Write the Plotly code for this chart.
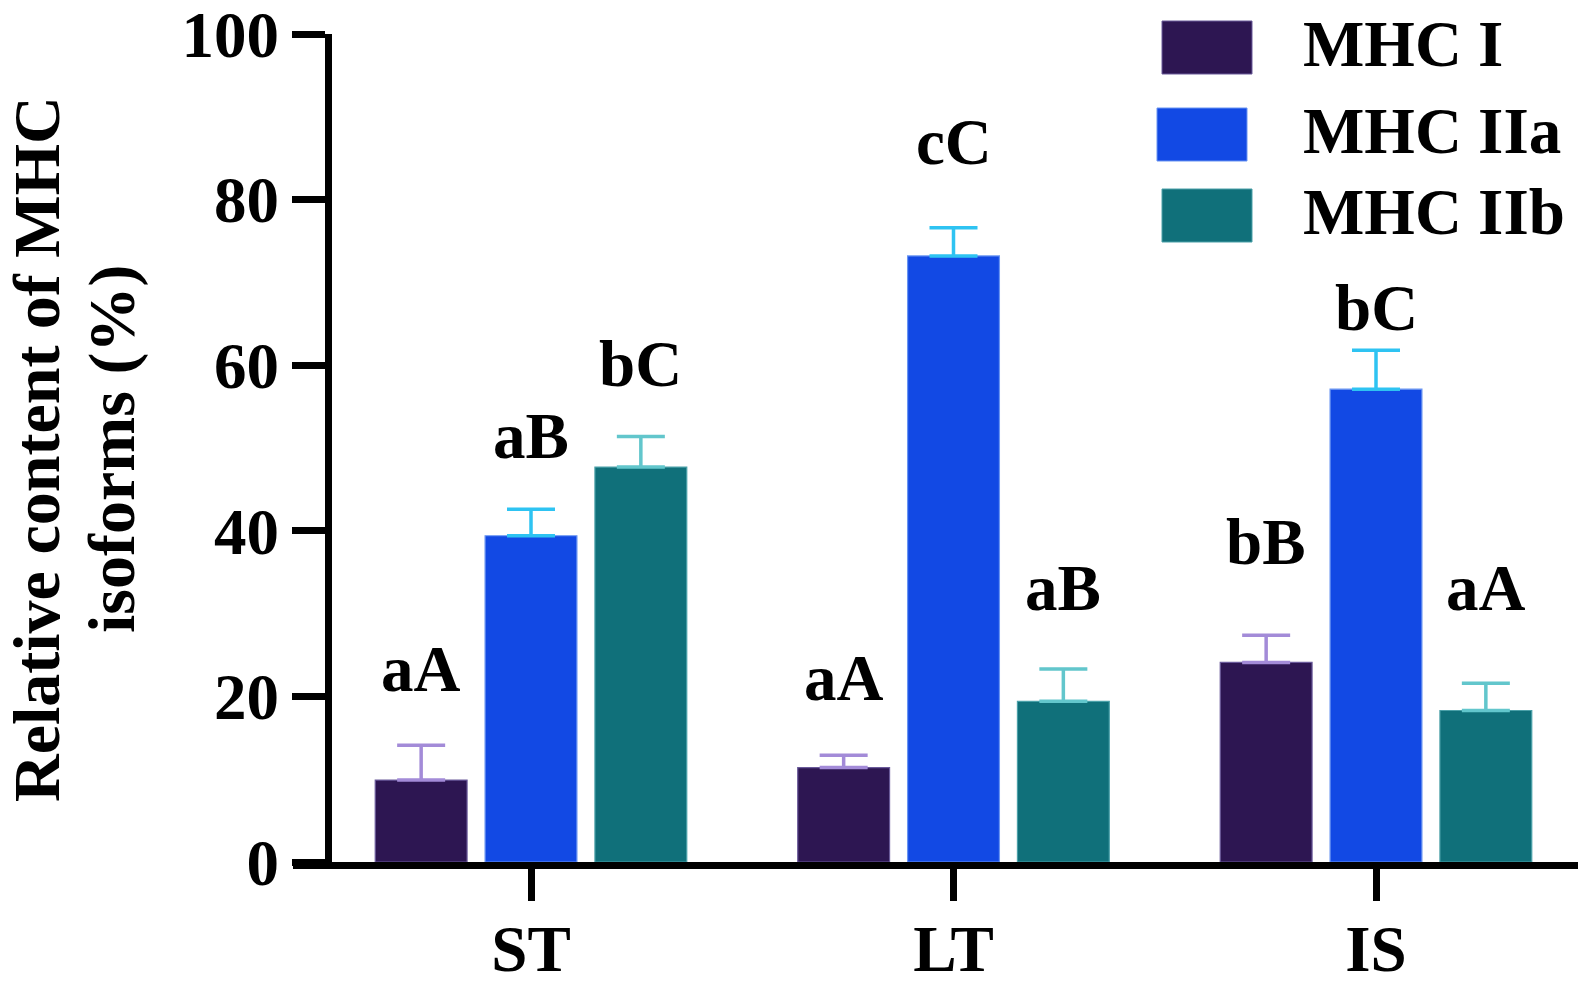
import plotly.graph_objects as go

# ---- data ----
categories = ["ST", "LT", "IS"]
series_names = ["MHC I", "MHC IIa", "MHC IIb"]
mhc1 = [9.9, 11.4, 24.1]
mhc2a = [39.4, 73.2, 57.1]
mhc2b = [47.7, 19.4, 18.3]
mhc1_err = [4.2, 1.5, 3.3]
mhc2a_err = [3.2, 3.4, 4.7]
mhc2b_err = [3.7, 3.9, 3.3]
labels_mhc1 = ["aA", "aA", "bB"]
labels_mhc2a = ["aB", "cC", "bC"]
labels_mhc2b = ["bC", "aB", "aA"]
label_y_mhc1 = [23.3, 22.2, 38.6]
label_y_mhc2a = [51.5, 87.0, 66.9]
label_y_mhc2b = [60.2, 33.1, 33.1]
y_ticks = [0, 20, 40, 60, 80, 100]
y_title_lines = ["Relative content of MHC", "isoforms (%)"]

values = [mhc1, mhc2a, mhc2b]
errors = [mhc1_err, mhc2a_err, mhc2b_err]
labels = [labels_mhc1, labels_mhc2a, labels_mhc2b]
label_ys = [label_y_mhc1, label_y_mhc2a, label_y_mhc2b]

bar_colors = ["#2d1652", "#1249e4", "#10707a"]
edge_colors = ["#6a5a9a", "#6a95f2", "#4aa0a8"]
err_colors = ["#a38bd8", "#2ec3f2", "#62c6cc"]

FONT = "Liberation Serif, Times New Roman, serif"
FS = 65

W, H = 1585, 984
L, R, T, B = 332, 1578, 34, 862   # plot area in pixels
PW, PH = R - L, B - T

def px_x(x):
    return (x - L) / PW

def px_y(y):
    return (B - y) / PH

# category axis placement (centre of first group and pitch, in px)
C0, PITCH = 531, 422.5
x_range = [(L - C0) / PITCH, (R - C0) / PITCH]

BARGAP = 0.22
BARGROUPGAP = 0.164
slot = (1 - BARGAP) / 3

fig = go.Figure()
for k in range(3):
    fig.add_trace(go.Bar(
        x=list(range(len(categories))),
        y=values[k],
        name=series_names[k],
        marker=dict(color=bar_colors[k], line=dict(color=edge_colors[k], width=1.2)),
        error_y=dict(type="data", array=errors[k], arrayminus=[0] * len(categories),
                     symmetric=False, color=err_colors[k], thickness=3.5, width=24),
        showlegend=False,
    ))

annotations = []
for k in range(3):
    for i in range(len(categories)):
        annotations.append(dict(
            x=i + (k - 1) * slot, y=label_ys[k][i], xref="x", yref="y",
            text=labels[k][i], showarrow=False, xanchor="center", yanchor="middle",
            font=dict(family=FONT, size=FS, color="black", weight="bold"),
        ))

# y-axis title, two lines
for xc, line in zip([36, 112], y_title_lines):
    annotations.append(dict(
        x=px_x(xc), y=px_y(449), xref="paper", yref="paper",
        text=line, textangle=-90,
        showarrow=False, xanchor="center", yanchor="middle",
        font=dict(family=FONT, size=66, color="black", weight="bold"),
    ))

# manual legend
shapes = []
swatches = [(1162, 21, 1252, 74), (1157, 108, 1247, 161), (1162, 189, 1252, 242)]
text_y = [44, 131, 212]
for k in range(3):
    x0, y0, x1, y1 = swatches[k]
    shapes.append(dict(type="rect", xref="paper", yref="paper",
                       x0=px_x(x0), x1=px_x(x1), y0=px_y(y1), y1=px_y(y0),
                       fillcolor=bar_colors[k], line=dict(color=edge_colors[k], width=1)))
    annotations.append(dict(
        x=px_x(1301), y=px_y(text_y[k]), xref="paper", yref="paper",
        text=series_names[k], showarrow=False, xanchor="left", yanchor="middle",
        font=dict(family=FONT, size=FS, color="black", weight="bold"),
    ))

# x-axis line extension to the left (Prism style)
shapes.append(dict(type="line", xref="paper", yref="paper",
                   x0=px_x(293), x1=px_x(L), y0=px_y(B + 3.5), y1=px_y(B + 3.5),
                   line=dict(color="black", width=7)))

fig.update_layout(
    width=W, height=H,
    margin=dict(l=L, r=W - R, t=T, b=H - B, pad=0, autoexpand=False),
    paper_bgcolor="white", plot_bgcolor="white",
    barmode="group", bargap=BARGAP, bargroupgap=BARGROUPGAP,
    annotations=annotations, shapes=shapes,
    xaxis=dict(
        range=x_range, tickmode="array",
        tickvals=list(range(len(categories))), ticktext=categories,
        showline=True, linecolor="black", linewidth=7,
        ticks="outside", ticklen=32, tickwidth=7, tickcolor="black",
        showgrid=False, zeroline=False, automargin=False,
        ticklabelstandoff=-8,
        tickfont=dict(family=FONT, size=FS, color="black", weight="bold"),
    ),
    yaxis=dict(
        range=[0, 100], tickmode="array", tickvals=y_ticks,
        showline=True, linecolor="black", linewidth=7,
        ticks="outside", ticklen=33, tickwidth=7, tickcolor="black",
        showgrid=False, zeroline=False, automargin=False,
        ticklabeloverflow="allow",
        tickfont=dict(family=FONT, size=FS, color="black", weight="bold"),
    ),
)

fig.write_html(
    "out.html",
    config={"displayModeBar": False},
    post_script="document.body.style.margin='0';document.body.style.overflow='hidden';",
)
